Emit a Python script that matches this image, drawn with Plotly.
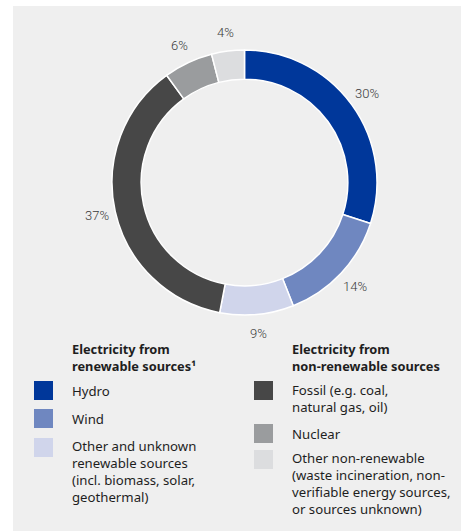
import math
import plotly.graph_objects as go

W, H = 461, 531

# ---- data ----
categories = ["Hydro", "Wind", "Other and unknown renewable sources",
              "Fossil", "Nuclear", "Other non-renewable"]
values = [30, 14, 9, 37, 6, 4]
colors = ["#00379a", "#6f87c0", "#d0d5eb", "#474747", "#9a9c9e", "#dcdddf"]
pct_labels = ["30%", "14%", "9%", "37%", "6%", "4%"]

group_titles = ["Electricity from<br>renewable sources¹",
                "Electricity from<br>non-renewable sources"]
legend_texts = [
    "Hydro",
    "Wind",
    "Other and unknown<br>renewable sources<br>(incl. biomass, solar,<br>geothermal)",
    "Fossil (e.g. coal,<br>natural gas, oil)",
    "Nuclear",
    "Other non-renewable<br>(waste incineration, non-<br>verifiable energy sources,<br>or sources unknown)",
]
legend_group = [0, 0, 0, 1, 1, 1]

# ---- layout helpers ----
def px(x):
    return x / W

def py(y):
    return 1 - y / H

BG = "#efefef"
TXT = "#1e1e1e"
FONT = "Noto Sans"
FS = 13.2
FS_B = 12.8
LH = 16  # reference line pitch

cx, cy, R = 244.5, 182.5, 132.5

fig = go.Figure()
fig.add_trace(go.Pie(
    labels=categories,
    values=values,
    sort=False,
    direction="clockwise",
    rotation=0,
    hole=0.78,
    marker=dict(colors=colors, line=dict(color="white", width=1.5)),
    textinfo="none",
    hoverinfo="label+percent",
    showlegend=False,
    domain=dict(x=[px(cx - R), px(cx + R)], y=[py(cy + R), py(cy - R)]),
))

annotations = []
shapes = []

# percent labels, placed at each slice's mid-angle
total = sum(values)
cum = 0
for v, lab in zip(values, pct_labels):
    mid = (cum + v / 2) / total * 2 * math.pi
    cum += v
    d = R + 19
    lx = cx + d * math.sin(mid)
    ly = cy - d * math.cos(mid)
    annotations.append(dict(
        x=px(lx), y=py(ly), xref="paper", yref="paper",
        text=lab, showarrow=False, xanchor="center", yanchor="middle",
        font=dict(family="Roboto", size=13, color="#3a3a3a", weight=300),
    ))


def add_block(x, first_center, text, bold=False):
    n = len(text.split("<br>"))
    center = first_center + (n - 1) * LH / 2
    annotations.append(dict(
        x=px(x), y=py(center), xref="paper", yref="paper",
        text=("<b>" + text + "</b>") if bold else text,
        showarrow=False, xanchor="left", yanchor="middle", align="left",
        font=dict(family=FONT, size=FS_B if bold else FS, color=TXT),
    ))


# legend
col_swatch_x = [34, 254]
col_text_x = [70, 290]
for g, t in enumerate(group_titles):
    add_block(col_text_x[g], 349, t, bold=True)

row_top = {0: [381, 409, 438], 1: [381, 424, 450]}
counters = {0: 0, 1: 0}
for i, (txt, g) in enumerate(zip(legend_texts, legend_group)):
    top = row_top[g][counters[g]]
    counters[g] += 1
    shapes.append(dict(
        type="rect", xref="paper", yref="paper",
        x0=px(col_swatch_x[g]), x1=px(col_swatch_x[g] + 19),
        y0=py(top + 19), y1=py(top),
        fillcolor=colors[i], line=dict(width=0),
    ))
    add_block(col_text_x[g], top + 9.5, txt)

# white strips outside the grey panel
shapes.append(dict(type="rect", xref="paper", yref="paper", x0=0, x1=px(13),
                   y0=0, y1=1, fillcolor="white", line=dict(width=0), layer="below"))
shapes.append(dict(type="rect", xref="paper", yref="paper", x0=0, x1=1,
                   y0=py(6), y1=1, fillcolor="white", line=dict(width=0), layer="below"))

fig.update_layout(
    width=W, height=H,
    margin=dict(l=0, r=0, t=0, b=0),
    paper_bgcolor=BG,
    plot_bgcolor=BG,
    annotations=annotations,
    shapes=shapes,
    font=dict(family=FONT, color=TXT),
)

fig.write_html("out.html")
